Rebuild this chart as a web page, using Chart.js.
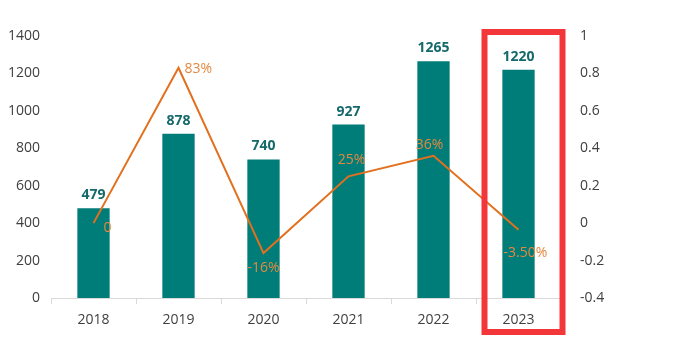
<!DOCTYPE html>
<html>
<head>
<meta charset="utf-8">
<script src="https://cdn.jsdelivr.net/npm/chart.js@4/dist/chart.umd.min.js"></script>
<style>
    html, body { margin: 0; padding: 0; background: #fff; }
    #wrap { width: 677px; height: 359px; }
</style>
</head>
<body>
<div id="wrap"><canvas id="chart-sales"></canvas></div>
<script>
const years = ['2018', '2019', '2020', '2021', '2022', '2023'];
const sales = [479, 878, 740, 927, 1265, 1220];
const growth = [0, 0.83, -0.16, 0.25, 0.36, -0.035];
const growthLabels = ['0', '83%', '-16%', '25%', '36%', '-3.50%'];

const barColor = '#007D79';
const lineColor = '#E2701E';
const axisText = '#404040';

// where each growth label sits relative to its point: [dx, dy, align]
const growthPos = [
    [10, 5, 'left'],
    [6, 1, 'left'],
    [0, 15, 'center'],
    [3, -16, 'center'],
    [-4, -11, 'center'],
    [7, 23, 'center']
];

const labelPlugin = {
    id: 'labels',
    afterDatasetsDraw(chart) {
        const c = chart.ctx;
        c.save();
        // bar values
        const bars = chart.getDatasetMeta(0).data;
        c.font = 'bold 14px "Open Sans"';
        c.fillStyle = '#16696B';
        c.textAlign = 'center';
        c.textBaseline = 'middle';
        bars.forEach(function (bar, i) {
            c.fillText(sales[i], bar.x, bar.y - 13);
        });
        // growth labels
        const pts = chart.getDatasetMeta(1).data;
        c.font = '14px "Open Sans"';
        c.fillStyle = '#E5883F';
        pts.forEach(function (p, i) {
            const pos = growthPos[i];
            c.textAlign = pos[2];
            c.fillText(growthLabels[i], p.x + pos[0], p.y + pos[1]);
        });
        // red highlight box around the last year
        const x = chart.scales.x.getPixelForValue(5);
        c.strokeStyle = '#F2363A';
        c.lineWidth = 6;
        c.strokeRect(x - 34, 32, 78, 300);
        c.restore();
    }
};

const ctx = document.getElementById('chart-sales');

new Chart(ctx, {
    data: {
        labels: years,
        datasets: [{
            type: 'bar',
            data: sales,
            backgroundColor: barColor,
            borderWidth: 0,
            barPercentage: 0.38,
            categoryPercentage: 1,
            yAxisID: 'y',
            order: 2
        }, {
            type: 'line',
            data: growth,
            borderColor: lineColor,
            borderWidth: 2,
            pointRadius: 0,
            tension: 0,
            yAxisID: 'y1',
            order: 1
        }]
    },
    options: {
        responsive: true,
        maintainAspectRatio: false,
        animation: false,
        layout: { padding: { top: 36, left: 0, right: 0, bottom: 0 } },
        plugins: {
            legend: { display: false },
            tooltip: { enabled: false }
        },
        scales: {
            x: {
                offset: true,
                grid: {
                    offset: true,
                    drawOnChartArea: false,
                    tickLength: 6,
                    color: '#D9D9D9'
                },
                border: { color: '#D9D9D9' },
                ticks: {
                    padding: 8,
                    color: axisText,
                    font: { family: 'Open Sans', size: 14 }
                },
                afterFit: function (scale) { scale.height = 61; }
            },
            y: {
                position: 'left',
                min: 0,
                max: 1400,
                grid: { display: false, drawTicks: false },
                border: { display: false },
                ticks: {
                    stepSize: 200,
                    padding: 11,
                    color: axisText,
                    font: { family: 'Open Sans', size: 14 },
                    callback: function (v) { return String(v); }
                },
                afterFit: function (scale) { scale.width = 51; }
            },
            y1: {
                position: 'right',
                min: -0.4,
                max: 1,
                grid: { display: false },
                border: { display: false },
                ticks: {
                    stepSize: 0.2,
                    padding: 11,
                    color: axisText,
                    font: { family: 'Open Sans', size: 14 },
                    callback: function (v) { return String(Math.round(v * 10) / 10); }
                },
                afterFit: function (scale) { scale.width = 116; }
            }
        }
    },
    plugins: [labelPlugin]
});
</script>
</body>
</html>
